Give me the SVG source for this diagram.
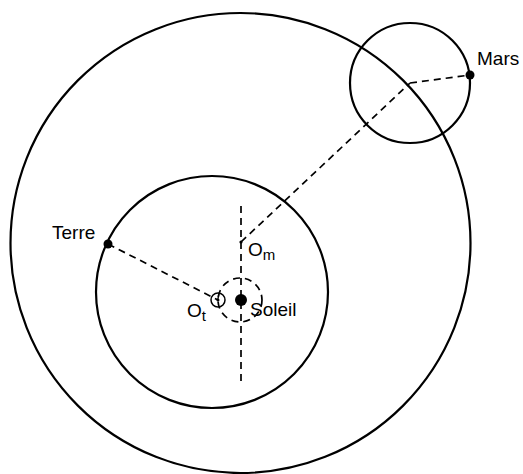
<svg xmlns="http://www.w3.org/2000/svg" width="523" height="474" viewBox="0 0 523 474">
<style>
.orb{fill:none;stroke:#000;stroke-width:2.2}
.dash{fill:none;stroke:#000;stroke-width:1.7;stroke-dasharray:7,5}
.lbl{font-family:"Liberation Sans",Arial,sans-serif;font-size:19px;fill:#000}
.sub{font-size:15px}
</style>
<rect width="523" height="474" fill="#fff"/>
<g id="connectors">
<line class="dash" x1="241" y1="206" x2="241" y2="384"/>
<line class="dash" x1="241" y1="242" x2="410" y2="83"/>
<line class="dash" x1="410" y1="83" x2="470" y2="75"/>
<line class="dash" x1="108" y1="244" x2="218" y2="300"/>
<circle class="dash" cx="240" cy="300" r="22" stroke-dasharray="8,5"/>
</g>
<g id="orbite-mars"><circle class="orb" cx="240.5" cy="243" r="230"/></g>
<g id="orbite-terre"><circle class="orb" cx="212" cy="292" r="116"/></g>
<g id="epicycle"><circle class="orb" cx="410" cy="83" r="60"/></g>
<g id="mars">
<circle cx="470" cy="75" r="4.5" fill="#000"/>
<text class="lbl" x="477" y="65">Mars</text>
</g>
<g id="terre">
<circle cx="108" cy="244" r="4.5" fill="#000"/>
<text class="lbl" x="52" y="239">Terre</text>
</g>
<g id="soleil">
<circle cx="241" cy="300" r="6" fill="#000"/>
<text class="lbl" x="250" y="316">Soleil</text>
</g>
<g id="ot">
<circle cx="218" cy="300" r="7" fill="none" stroke="#000" stroke-width="1.5"/>
<line x1="219" y1="293.5" x2="217.5" y2="301" stroke="#000" stroke-width="1.3"/>
<circle cx="218" cy="300" r="1.5" fill="#000"/>
<text class="lbl" x="187" y="317">O<tspan class="sub" dy="4">t</tspan></text>
</g>
<g id="om">
<circle cx="241" cy="242" r="1.6" fill="#000"/>
<text class="lbl" x="248" y="256">O<tspan class="sub" dy="4">m</tspan></text>
</g>
</svg>
